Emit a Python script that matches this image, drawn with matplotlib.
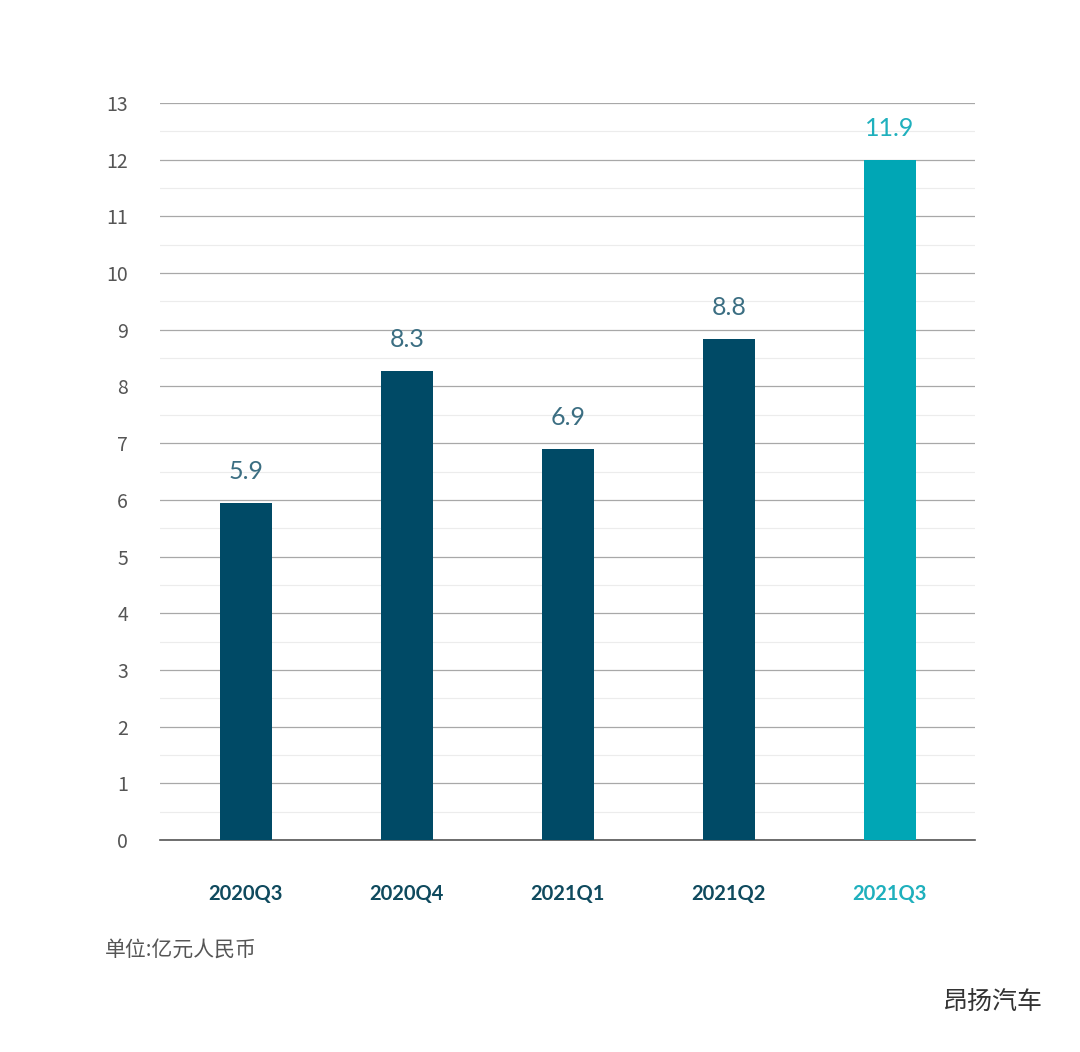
import matplotlib.pyplot as plt
import numpy as np

plt.rcParams['font.family'] = ['Noto Sans CJK SC', 'DejaVu Sans']

quarters = ['2020Q3', '2020Q4', '2021Q1', '2021Q2', '2021Q3']
values = [5.9, 8.3, 6.9, 8.8, 11.9]
bar_heights = [5.94, 8.27, 6.9, 8.84, 12.0]
colors = ['#004a66'] * 4 + ['#00a6b5']
label_colors = ['#3b6e82'] * 4 + ['#1fb0bd']

fig = plt.figure(figsize=(10.8, 10.52), dpi=100)
ax = fig.add_axes([0.148, 0.2015, 0.755, 0.7006])

x = np.arange(len(quarters))
ax.bar(x, bar_heights, width=0.32, color=colors, zorder=3)
for xi, h, v, c in zip(x, bar_heights, values, label_colors):
    ax.text(xi, h + 0.35, f'{v}', ha='center', va='bottom', fontsize=18, color=c,
            family='Lato')

ax.set_xlim(-0.534, 4.53)
ax.set_ylim(0, 13)
ax.set_yticks(range(0, 14))
ax.set_yticks(np.arange(0.5, 13, 1), minor=True)
ax.tick_params(axis='y', length=0, labelsize=14, labelcolor='#555555', pad=23)
ax.tick_params(axis='y', which='minor', length=0)
ax.grid(axis='y', which='major', color='#a8a8a8', linewidth=0.9, zorder=0)
ax.grid(axis='y', which='minor', color='#ececec', linewidth=0.8, zorder=0)
ax.set_xticks(x)
ax.set_xticklabels(quarters, fontsize=14.5, fontweight='bold', family='Lato')
for lbl, c in zip(ax.get_xticklabels(), ['#0f4a5e'] * 4 + ['#1fb0bd']):
    lbl.set_color(c)
ax.tick_params(axis='x', length=0, pad=32)
for s in ['top', 'right', 'left']:
    ax.spines[s].set_visible(False)
ax.spines['bottom'].set_color('#555555')
ax.spines['bottom'].set_linewidth(1.2)

fig.text(105 / 1080, 1 - 950 / 1052, '单位:亿元人民币', fontsize=15, color='#555555', va='center')
fig.text(1042 / 1080, 1 - 1003 / 1052, '昂扬汽车', fontsize=18, color='#333333',
         va='center', ha='right')

fig.savefig('out.png', dpi=100)
